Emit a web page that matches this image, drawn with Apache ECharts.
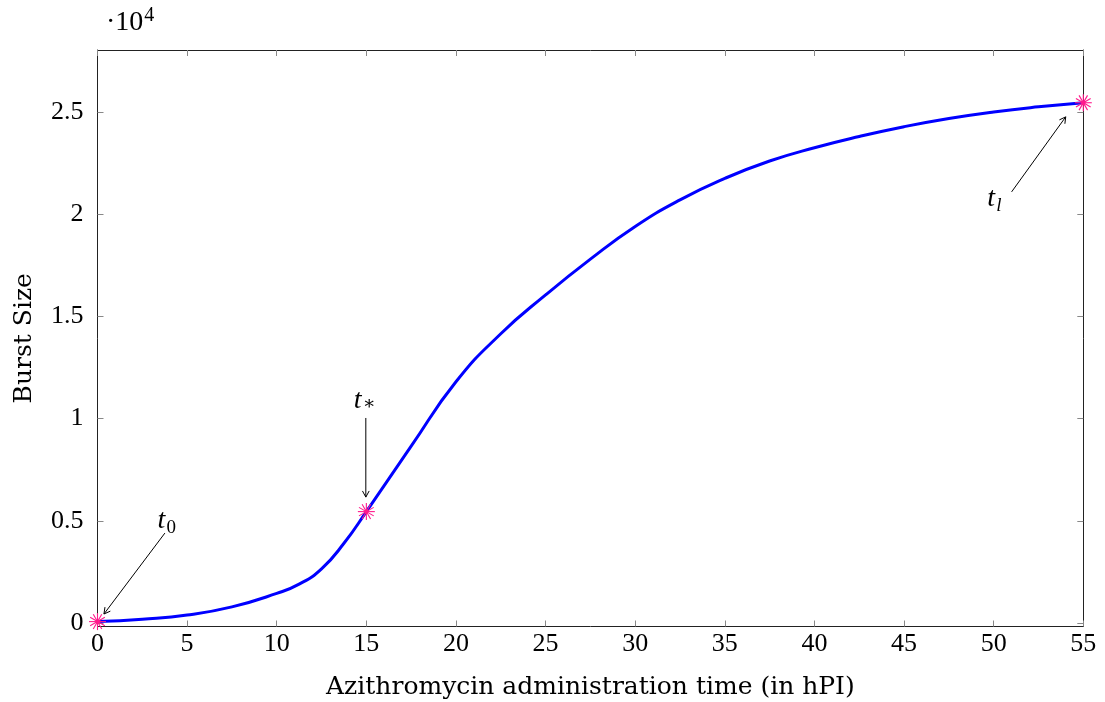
<!DOCTYPE html>
<html>
<head>
<meta charset="utf-8">
<script src="https://cdn.jsdelivr.net/npm/echarts@6/dist/echarts.min.js"></script>
<style>
  html, body { margin: 0; padding: 0; background: #fff; }
  #chart { width: 1105px; height: 702px; }
</style>
</head>
<body>
<div id="chart"></div>
<script>
// Administration time (hours post infection) and burst size along the curve
const times = [0, 2.5, 5, 7.5, 10, 11.25, 12.5, 13.75, 15, 17.5, 20, 22.5, 25, 27.5, 30, 32.5, 35, 37.5, 40, 42.5, 45, 47.5, 50, 52.5, 55];
const burst = [70, 190, 390, 790, 1450, 1900, 2650, 3900, 5450, 8650, 11800, 14150, 16050, 17800, 19400, 20700, 21750, 22600, 23250, 23800, 24280, 24680, 25000, 25250, 25450];

// Highlighted times t0, t*, tl (indices into the arrays above)
const markIdx = [0, 8, 24];

// Annotation arrows: label anchor -> arrow tip (data units)
const arrows = [
  [3.76, 4400, 0.36, 440],
  [14.97, 10030, 14.97, 6160],
  [51.0, 21090, 54.02, 24760]
];
const labelPos = [[3.9, 5000], [14.85, 10900], [50.2, 20750]];
const labelSub = ['0', '∗', 'l'];

const xTicks = [0, 5, 10, 15, 20, 25, 30, 35, 40, 45, 50, 55];
const yTicks = [0, 5000, 10000, 15000, 20000, 25000];

const NUM_FONT = '"Liberation Serif", "DejaVu Serif", serif';
const TXT_FONT = '"DejaVu Serif", "Liberation Serif", serif';
const curve = times.map((t, i) => [t, burst[i]]);
const marks = markIdx.map(i => [times[i], burst[i]]);

const chart = echarts.init(document.getElementById('chart'), null, { renderer: 'canvas' });

const frameLine = { show: true, onZero: false, lineStyle: { color: '#222', width: 1 } };
const tickStyle = { show: true, inside: true, length: 6, lineStyle: { color: '#888', width: 1 } };

chart.setOption({
  animation: false,
  backgroundColor: '#fff',
  grid: { left: 97.5, right: 21.7, top: 50, bottom: 75.5, containLabel: false, outerBoundsMode: 'none' },
  xAxis: [
    {
      type: 'value', min: 0, max: 55, position: 'bottom',
      axisLine: frameLine,
      axisTick: Object.assign({ customValues: xTicks }, tickStyle),
      axisLabel: { customValues: xTicks, color: '#000', fontFamily: NUM_FONT, fontSize: 26, margin: 5 },
      splitLine: { show: false },
      name: 'Azithromycin administration time (in hPI)', nameLocation: 'middle', nameGap: 48,
      nameTextStyle: { color: '#000', fontFamily: TXT_FONT, fontSize: 25 }
    },
    {
      type: 'value', min: 0, max: 55, position: 'top',
      axisLine: frameLine,
      axisTick: Object.assign({ customValues: xTicks }, tickStyle),
      axisLabel: { show: false }, splitLine: { show: false }
    }
  ],
  yAxis: [
    {
      type: 'value', min: -170, max: 28030, position: 'left',
      axisLine: frameLine,
      axisTick: Object.assign({ customValues: yTicks }, tickStyle),
      axisLabel: {
        customValues: yTicks, color: '#000', fontFamily: NUM_FONT, fontSize: 26, margin: 14,
        formatter: v => String(v / 10000)
      },
      splitLine: { show: false },
      name: 'Burst Size', nameLocation: 'middle', nameGap: 61, nameRotate: 90,
      nameTextStyle: { color: '#000', fontFamily: TXT_FONT, fontSize: 25 }
    },
    {
      type: 'value', min: -170, max: 28030, position: 'right',
      axisLine: frameLine,
      axisTick: Object.assign({ customValues: yTicks }, tickStyle),
      axisLabel: { show: false }, splitLine: { show: false }
    }
  ],
  graphic: [
    {
      type: 'text', left: 106, top: 6,
      style: {
        text: '·10{sup|4}', fill: '#000', font: '28px ' + NUM_FONT,
        rich: { sup: { fontSize: 20, fontFamily: NUM_FONT, padding: [0, 0, 14, 1] } }
      }
    }
  ],
  series: [
    {
      type: 'line', data: curve, smooth: 0.5, symbol: 'none',
      lineStyle: { color: '#0000ff', width: 3 }, z: 3
    },
    {
      // asterisk markers at the highlighted times
      type: 'custom', data: marks, z: 5,
      renderItem: (params, api) => {
        const p = api.coord([api.value(0), api.value(1)]);
        const r = 8.5, kids = [];
        for (let k = 0; k < 6; k++) {
          const a = k * Math.PI / 6 + Math.PI / 2;
          kids.push({
            type: 'line',
            shape: { x1: p[0] - r * Math.cos(a), y1: p[1] - r * Math.sin(a), x2: p[0] + r * Math.cos(a), y2: p[1] + r * Math.sin(a) },
            style: { stroke: '#ff1a8c', lineWidth: 1.1 }
          });
        }
        kids.push({ type: 'circle', shape: { cx: p[0], cy: p[1], r: 2.2 }, style: { fill: '#ff1a8c' } });
        return { type: 'group', children: kids };
      }
    },
    {
      // annotation arrows with open heads
      type: 'custom', data: arrows, z: 4,
      renderItem: (params, api) => {
        const a = api.coord([api.value(0), api.value(1)]);
        const b = api.coord([api.value(2), api.value(3)]);
        const ang = Math.atan2(b[1] - a[1], b[0] - a[0]);
        const h = 7, w = 0.5;
        return {
          type: 'group', children: [
            { type: 'line', shape: { x1: a[0], y1: a[1], x2: b[0], y2: b[1] }, style: { stroke: '#000', lineWidth: 1 } },
            { type: 'polyline', shape: { points: [
              [b[0] - h * Math.cos(ang - w), b[1] - h * Math.sin(ang - w)],
              [b[0], b[1]],
              [b[0] - h * Math.cos(ang + w), b[1] - h * Math.sin(ang + w)]
            ] }, style: { stroke: '#000', lineWidth: 1, fill: null } }
          ]
        };
      }
    },
    {
      // annotation labels t0, t*, tl
      type: 'custom', data: labelPos.map((p, i) => [p[0], p[1], i]), z: 4,
      renderItem: (params, api) => {
        const p = api.coord([api.value(0), api.value(1)]);
        const sub = labelSub[api.value(2)];
        return {
          type: 'group', children: [
            { type: 'text', x: p[0] - 10, y: p[1], style: { text: 't', font: 'italic 28px ' + NUM_FONT, fill: '#000', align: 'left', verticalAlign: 'middle' } },
            { type: 'text', x: p[0] - 1, y: p[1] + (sub === '∗' ? 4 : 7), style: { text: sub, font: (sub === 'l' ? 'italic ' : '') + '19px ' + NUM_FONT, fill: '#000', align: 'left', verticalAlign: 'middle' } }
          ]
        };
      }
    }
  ]
});
</script>
</body>
</html>
